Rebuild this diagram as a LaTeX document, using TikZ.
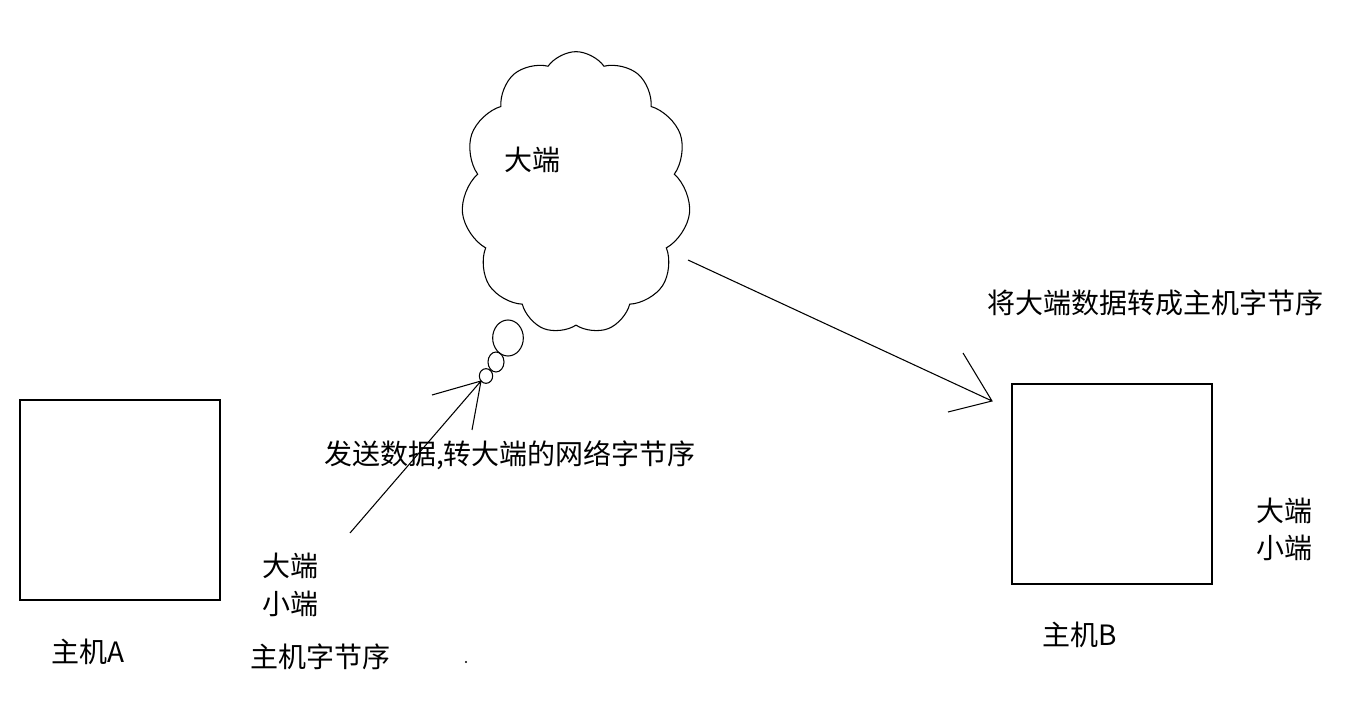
\documentclass[tikz,border=0pt]{standalone}
\usepackage{fontspec}
\setmainfont{Noto Sans CJK SC}
\usetikzlibrary{shapes.symbols,shapes.geometric}
\begin{document}
\begin{tikzpicture}[x=0.75pt,y=-0.75pt,line width=0.8pt,
  lbl/.style={inner sep=0pt,font=\fontsize{21}{24}\selectfont},
  box/.style={draw,minimum width=150pt,minimum height=150pt,inner sep=0pt},
  bub/.style={draw,ellipse,inner sep=0pt}]
\useasboundingbox (0,0) rectangle (1359,723);
\node[box] (A) at (120,500) {};
\node[box] (B) at (1112,484) {};
\node[draw,cloud,cloud puffs=11,cloud puff arc=110,minimum width=172pt,minimum height=212pt] (cl) at (576,193) {};
\node[lbl] (cltxt) at (532,160) {大端};
\node[bub,minimum width=23pt,minimum height=27pt] (b1) at (508,338) {};
\node[bub,minimum width=12pt,minimum height=15pt] (b2) at (496,362) {};
\node[bub,minimum width=10pt,minimum height=11pt] (b3) at (486,376) {};
\coordinate (s1) at (350,533);
\coordinate (t1) at (481,381);
\coordinate (h1a) at (432,395);
\coordinate (h1b) at (472,430);
\draw (s1) -- (t1) (h1a) -- (t1) -- (h1b);
\coordinate (s2) at (688,260);
\coordinate (t2) at (992,401);
\coordinate (h2a) at (963,353);
\coordinate (h2b) at (948,412);
\draw (s2) -- (t2) (h2a) -- (t2) -- (h2b);
\node[lbl] (hA) at (88,652) {主机A};
\node[lbl] (l1) at (290,566) {大端};
\node[lbl] (l2) at (290,604) {小端};
\node[lbl] (l3) at (320,657) {主机字节序};
\node[lbl] (send) at (510,455) {发送数据,转大端的网络字节序};
\node[lbl] (conv) at (1155,303) {将大端数据转成主机字节序};
\node[lbl] (r1) at (1284,511) {大端};
\node[lbl] (r2) at (1284,548) {小端};
\node[lbl] (hB) at (1080,635) {主机B};
\fill (466,662) circle (0.8pt);
\end{tikzpicture}
\end{document}
